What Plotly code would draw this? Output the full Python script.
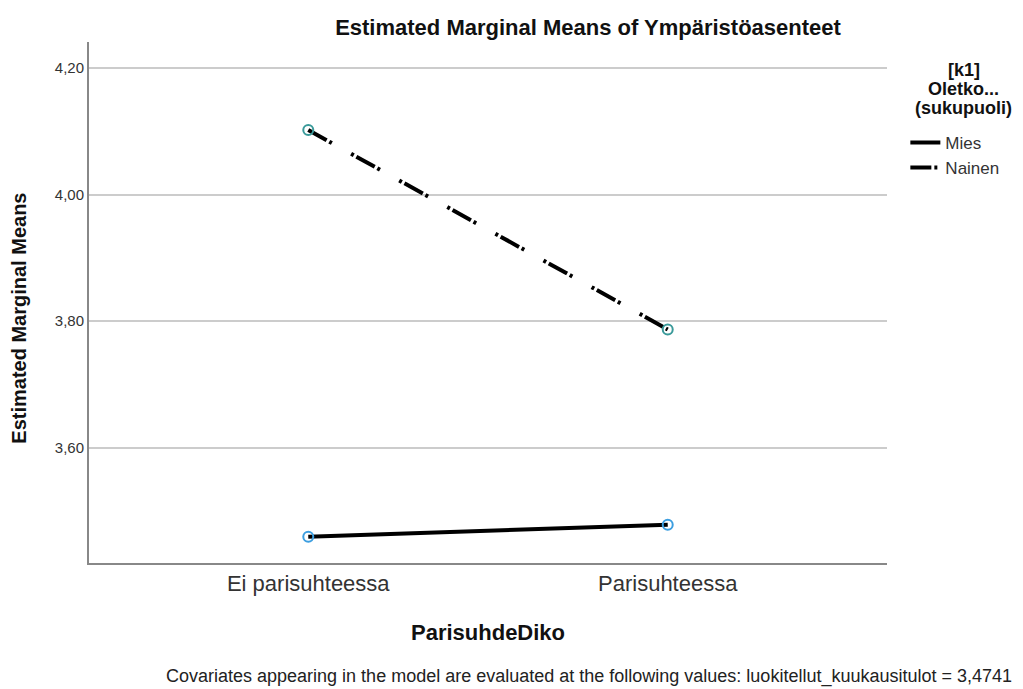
import plotly.graph_objects as go

# Estimated marginal means
categories = ["Ei parisuhteessa", "Parisuhteessa"]
mies_means = [3.4595, 3.4784]
nainen_means = [4.102, 3.787]
y_ticks = [3.60, 3.80, 4.00, 4.20]
legend_heading = ["[k1]", "Oletko...", "(sukupuoli)"]

FONT = "Liberation Sans, Arial, sans-serif"
NAINEN_DASH = "21px,3px,3px,22px,3px,3px"

fig = go.Figure()

# lines (these carry the legend entries)
fig.add_trace(
    go.Scatter(
        x=categories,
        y=mies_means,
        mode="lines",
        name="Mies",
        line={"color": "black", "width": 4},
    )
)
fig.add_trace(
    go.Scatter(
        x=categories,
        y=nainen_means,
        mode="lines",
        name="Nainen",
        line={"color": "black", "width": 4, "dash": NAINEN_DASH},
    )
)
# open circle markers on the means
fig.add_trace(
    go.Scatter(
        x=categories,
        y=mies_means,
        mode="markers",
        showlegend=False,
        marker={"symbol": "circle-open", "size": 10,
                "color": "#3c9ee0", "line": {"width": 2, "color": "#3c9ee0"}},
    )
)
fig.add_trace(
    go.Scatter(
        x=categories,
        y=nainen_means,
        mode="markers",
        showlegend=False,
        marker={"symbol": "circle-open", "size": 10,
                "color": "#3a9a9a", "line": {"width": 2, "color": "#3a9a9a"}},
    )
)

# page body has an 8px margin, so the figure is 8px smaller and shifted
fig.update_layout(
    width=1015,
    height=681,
    plot_bgcolor="white",
    paper_bgcolor="white",
    separators=", ",
    font={"family": FONT, "color": "#222222"},
    margin={"l": 81, "r": 136, "t": 34, "b": 126},
    title={
        "text": "<b>Estimated Marginal Means of Ympäristöasenteet</b>",
        "x": 580 / 1015,
        "xanchor": "center",
        "y": 1 - 19 / 681,
        "yanchor": "middle",
        "font": {"size": 22, "family": FONT, "color": "#111111"},
    },
    showlegend=True,
    legend={
        "x": 1.023,
        "y": 0.841,
        "xanchor": "left",
        "yanchor": "top",
        "font": {"size": 17, "family": FONT, "color": "#333333"},
        "itemwidth": 30,
        "tracegroupgap": 0,
    },
)

fig.update_xaxes(
    type="category",
    range=[-0.61, 1.61],
    showgrid=False,
    showline=True,
    linecolor="#888888",
    linewidth=2,
    ticks="",
    tickfont={"size": 22, "family": FONT, "color": "#333333"},
)
fig.update_yaxes(
    range=[3.418, 4.241],
    tickvals=y_ticks,
    tickformat=".2f",
    showgrid=True,
    gridcolor="#cccccc",
    gridwidth=1.5,
    zeroline=False,
    showline=True,
    linecolor="#888888",
    linewidth=2,
    ticks="",
    tickfont={"size": 15, "family": FONT, "color": "#333333"},
)

# legend heading, one line at a time for tight spacing
for i, line in enumerate(legend_heading):
    fig.add_annotation(
        text=f"<b>{line}</b>",
        xref="paper", yref="paper",
        x=1.096, y=(563 - (70 + 19 * i)) / 521,
        xanchor="center", yanchor="middle",
        showarrow=False,
        font={"size": 18, "family": FONT, "color": "#111111"},
    )
# axis titles
fig.add_annotation(
    text="<b>Estimated Marginal Means</b>",
    xref="paper", yref="paper",
    x=-0.087, y=0.47,
    xanchor="center", yanchor="middle",
    textangle=-90,
    showarrow=False,
    font={"size": 20, "family": FONT, "color": "#111111"},
)
fig.add_annotation(
    text="<b>ParisuhdeDiko</b>",
    xref="paper", yref="paper",
    x=0.5, y=-0.134,
    xanchor="center", yanchor="middle",
    showarrow=False,
    font={"size": 22, "family": FONT, "color": "#111111"},
)
# footnote
fig.add_annotation(
    text="Covariates appearing in the model are evaluated at the following values: "
    "luokitellut_kuukausitulot = 3,4741",
    xref="paper", yref="paper",
    x=1.159, y=-0.217,
    xanchor="right", yanchor="middle",
    showarrow=False,
    font={"size": 18, "family": FONT, "color": "#222222"},
)

fig.write_html("out.html")
